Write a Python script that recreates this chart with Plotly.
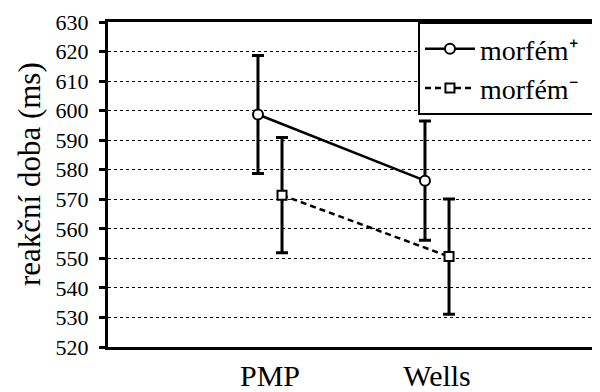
import plotly.graph_objects as go

categories = ["PMP", "Wells"]
series_names = ["morfém⁺\u00a0\u00a0", "morfém⁻\u00a0\u00a0"]
morfem_plus = [598.7, 576.3]
morfem_plus_err = [20.0, 20.2]
morfem_minus = [571.4, 550.6]
morfem_minus_err = [19.5, 19.5]
y_ticks = list(range(520, 631, 10))

FONT = "Liberation Serif"
offset = 0.072
xi = list(range(len(categories)))

fig = go.Figure()
fig.add_trace(go.Scatter(
    x=[i - offset for i in xi], y=morfem_plus,
    name=series_names[0], mode="lines+markers",
    line=dict(color="black", width=2.5),
    marker=dict(symbol="circle", size=10, color="white", line=dict(color="black", width=2)),
    error_y=dict(type="data", array=morfem_plus_err, color="black", thickness=3, width=6),
))
fig.add_trace(go.Scatter(
    x=[i + offset for i in xi], y=morfem_minus,
    name=series_names[1], mode="lines+markers",
    line=dict(color="black", width=2.5, dash="6px,4px"),
    marker=dict(symbol="square", size=9, color="white", line=dict(color="black", width=2)),
    error_y=dict(type="data", array=morfem_minus_err, color="black", thickness=3, width=6),
))

fig.update_layout(
    width=592, height=384,
    margin=dict(l=100, r=0, t=14, b=45),
    paper_bgcolor="white", plot_bgcolor="white",
    font=dict(family=FONT, color="black", size=22),
    showlegend=True,
    legend=dict(
        x=0.63, y=1, xanchor="left", yanchor="top",
        bgcolor="white", bordercolor="black", borderwidth=2,
        font=dict(size=28, family=FONT, color="black"),
        tracegroupgap=0, itemwidth=50,
    ),
    xaxis=dict(
        range=[-0.97, 1.976], tickmode="array", tickvals=xi, ticktext=categories,
        showgrid=False, zeroline=False, showline=True, linecolor="black", linewidth=3,
        mirror=True, ticks="",
        tickfont=dict(size=30, family=FONT, color="black"), automargin=False,
    ),
    yaxis=dict(
        range=[520, 630], tickmode="array", tickvals=y_ticks,
        showgrid=True, gridcolor="black", gridwidth=1, griddash="3px,3px",
        zeroline=False, showline=True, linecolor="black", linewidth=3,
        ticks="outside", ticklen=6, tickwidth=3, tickcolor="black",
        ticklabelstandoff=6,
        tickfont=dict(size=22, family=FONT, color="black"), automargin=False,
    ),
    annotations=[dict(
        text="reakční doba (ms)", textangle=-90, showarrow=False,
        xref="paper", yref="paper", x=-0.1606, y=0.532,
        xanchor="center", yanchor="middle",
        font=dict(size=31, family=FONT, color="black"),
    )],
)
fig.write_html("out.html")
